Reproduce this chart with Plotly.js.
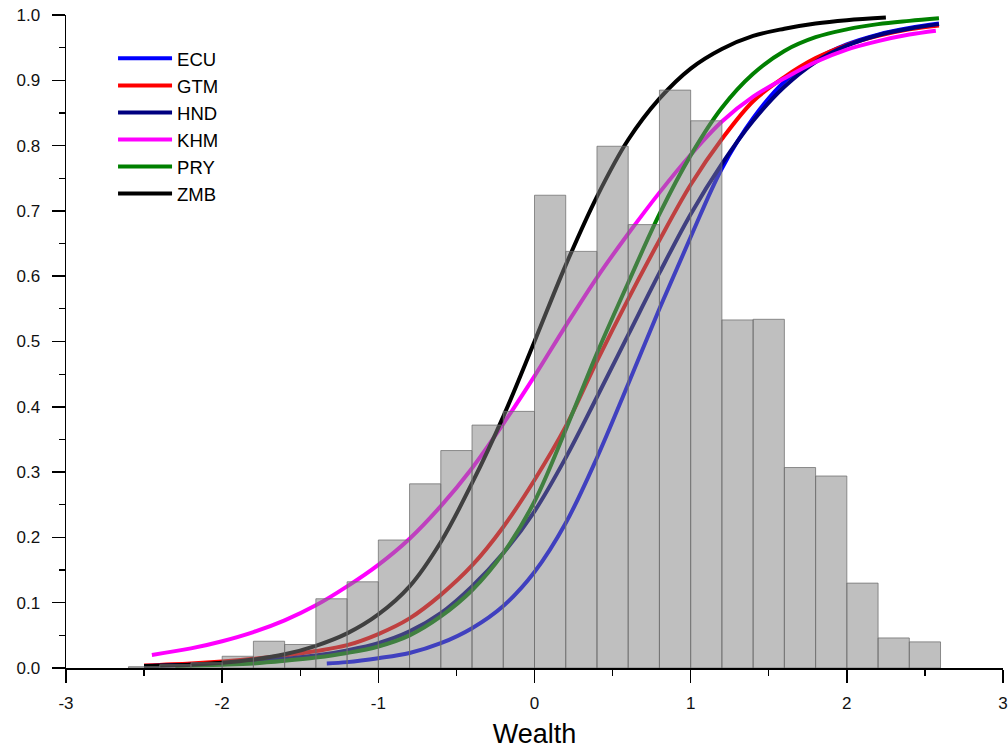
<!DOCTYPE html>
<html>
<head>
<meta charset="utf-8">
<script src="https://cdn.plot.ly/plotly-3.0.1.min.js"></script>
<style>html,body{margin:0;padding:0;background:#fff}#chart{width:1008px;height:752px}</style>
</head>
<body>
<div id="chart"></div>
<script>
// Histogram of wealth (bin centres, bin width 0.2)
const binCenters = [-2.5,-2.3,-2.1,-1.9,-1.7,-1.5,-1.3,-1.1,-0.9,-0.7,-0.5,-0.3,-0.1,0.1,0.3,0.5,0.7,0.9,1.1,1.3,1.5,1.7,1.9,2.1,2.3,2.5];
const binHeights = [0.002,0.005,0.008,0.018,0.041,0.036,0.106,0.132,0.196,0.282,0.333,0.372,0.393,0.724,0.638,0.799,0.679,0.885,0.838,0.533,0.534,0.307,0.294,0.130,0.046,0.040];

// Fitted curves
const ecuX = [-1.33,-1.2,-1.0,-0.8,-0.6,-0.4,-0.2,0,0.2,0.4,0.6,0.8,1.0,1.2,1.4,1.6,1.8,2.0,2.2,2.4,2.59];
const ecuY = [0.007,0.009,0.015,0.023,0.038,0.061,0.095,0.147,0.222,0.322,0.435,0.55,0.66,0.765,0.842,0.898,0.932,0.955,0.97,0.98,0.987];

const gtmX = [-2.5,-2.2,-2.0,-1.8,-1.6,-1.4,-1.2,-1.0,-0.8,-0.6,-0.4,-0.2,0,0.2,0.4,0.6,0.8,1.0,1.2,1.4,1.6,1.8,2.0,2.2,2.4,2.59];
const gtmY = [0.004,0.007,0.010,0.014,0.019,0.026,0.035,0.052,0.076,0.112,0.157,0.216,0.288,0.37,0.47,0.565,0.655,0.74,0.81,0.868,0.905,0.934,0.954,0.968,0.978,0.984];

const hndX = [-2.5,-2.2,-2.0,-1.8,-1.6,-1.4,-1.2,-1.0,-0.8,-0.6,-0.4,-0.2,0,0.2,0.4,0.6,0.8,1.0,1.2,1.4,1.6,1.8,2.0,2.2,2.4,2.59];
const hndY = [0.003,0.005,0.007,0.010,0.014,0.019,0.027,0.038,0.056,0.084,0.125,0.176,0.240,0.322,0.415,0.51,0.605,0.695,0.772,0.838,0.89,0.928,0.953,0.969,0.979,0.986];

const khmX = [-2.45,-2.2,-2.0,-1.8,-1.6,-1.4,-1.2,-1.0,-0.8,-0.6,-0.4,-0.2,0,0.2,0.4,0.6,0.8,1.0,1.2,1.4,1.6,1.8,2.0,2.2,2.4,2.57];
const khmY = [0.020,0.030,0.041,0.055,0.073,0.096,0.125,0.158,0.198,0.248,0.306,0.374,0.447,0.524,0.598,0.665,0.728,0.786,0.837,0.875,0.903,0.928,0.947,0.960,0.970,0.976];

const pryX = [-2.3,-2.0,-1.8,-1.6,-1.4,-1.2,-1.0,-0.8,-0.6,-0.4,-0.2,0,0.2,0.4,0.6,0.8,1.0,1.2,1.4,1.6,1.8,2.0,2.2,2.4,2.59];
const pryY = [0.003,0.005,0.007,0.011,0.016,0.023,0.033,0.050,0.079,0.119,0.176,0.255,0.365,0.482,0.59,0.695,0.785,0.858,0.91,0.945,0.966,0.978,0.986,0.991,0.995];

const zmbX = [-2.5,-2.2,-2.0,-1.8,-1.6,-1.4,-1.2,-1.0,-0.8,-0.6,-0.4,-0.2,0,0.2,0.4,0.6,0.8,1.0,1.2,1.4,1.6,1.8,2.0,2.25];
const zmbY = [0.003,0.005,0.008,0.013,0.021,0.034,0.053,0.082,0.125,0.193,0.283,0.385,0.5,0.617,0.722,0.809,0.872,0.918,0.948,0.968,0.979,0.987,0.992,0.996];

// Axis tick labels
const xTickVals = [-3,-2,-1,0,1,2,3];
const xTickText = ['-3','-2','-1','0','1','2','3'];

const seriesNames = ['ECU','GTM','HND','KHM','PRY','ZMB'];
const seriesColors = ['#0000ff','#ff0000','#000080','#ff00ff','#008000','#000000'];
const seriesX = [ecuX,gtmX,hndX,khmX,pryX,zmbX];
const seriesY = [ecuY,gtmY,hndY,khmY,pryY,zmbY];

const traces = seriesNames.map((n,i)=>({
  type:'scatter', mode:'lines', name:n, x:seriesX[i], y:seriesY[i],
  line:{color:seriesColors[i], width:4, shape:'spline', smoothing:1},
  xaxis:'x', yaxis:'y', hoverinfo:'skip'
}));

traces.push({
  type:'bar', x:binCenters, y:binHeights, width:0.2,
  marker:{color:'rgba(128,128,128,0.5)', line:{color:'rgba(110,110,110,0.75)', width:1}},
  xaxis:'x2', yaxis:'y2', showlegend:false, hoverinfo:'skip'
});

const fontFam = '"Liberation Sans", Arial, sans-serif';
const tickFont = {family:fontFam, size:17, color:'#111'};
const layout = {
  width:1008, height:752,
  margin:{l:66, r:5, t:15, b:84},
  paper_bgcolor:'#ffffff', plot_bgcolor:'#ffffff',
  font:{family:fontFam, size:17, color:'#111'},
  showlegend:true,
  legend:{x:0.0502, y:0.962, xanchor:'left', yanchor:'top', bgcolor:'rgba(0,0,0,0)',
    font:{family:fontFam, size:18.5, color:'#000'}, itemwidth:54},
  bargap:0,
  xaxis:{range:[-3,3], tickmode:'array', tickvals:xTickVals, ticktext:xTickText,
    showgrid:false, zeroline:false, ticklabeloverflow:'allow',
    showline:true, linecolor:'#000', linewidth:1.5, ticks:'outside', ticklen:13, tickwidth:1.5, tickcolor:'#000',
    minor:{dtick:0.5, ticks:'outside', ticklen:6, tickwidth:1.2, tickcolor:'#000'},
    tickfont:tickFont, ticklabelstandoff:6,
    title:{text:'Wealth', font:{family:fontFam, size:27, color:'#000'}, standoff:12}},
  yaxis:{range:[0,1.0], dtick:0.1, tick0:0, tickformat:'.1f', showgrid:false, zeroline:false,
    ticklabeloverflow:'allow',
    showline:true, linecolor:'#000', linewidth:1.5, ticks:'outside', ticklen:13, tickwidth:1.5, tickcolor:'#000',
    minor:{dtick:0.05, ticks:'outside', ticklen:6, tickwidth:1.2, tickcolor:'#000'},
    tickfont:tickFont, ticklabelstandoff:8},
  xaxis2:{range:[-3,3], overlaying:'x', visible:false, showgrid:false, zeroline:false},
  yaxis2:{range:[0,1.0], overlaying:'y', visible:false, showgrid:false, zeroline:false}
};

Plotly.newPlot('chart', traces, layout, {displayModeBar:false, staticPlot:true});
</script>
</body>
</html>
